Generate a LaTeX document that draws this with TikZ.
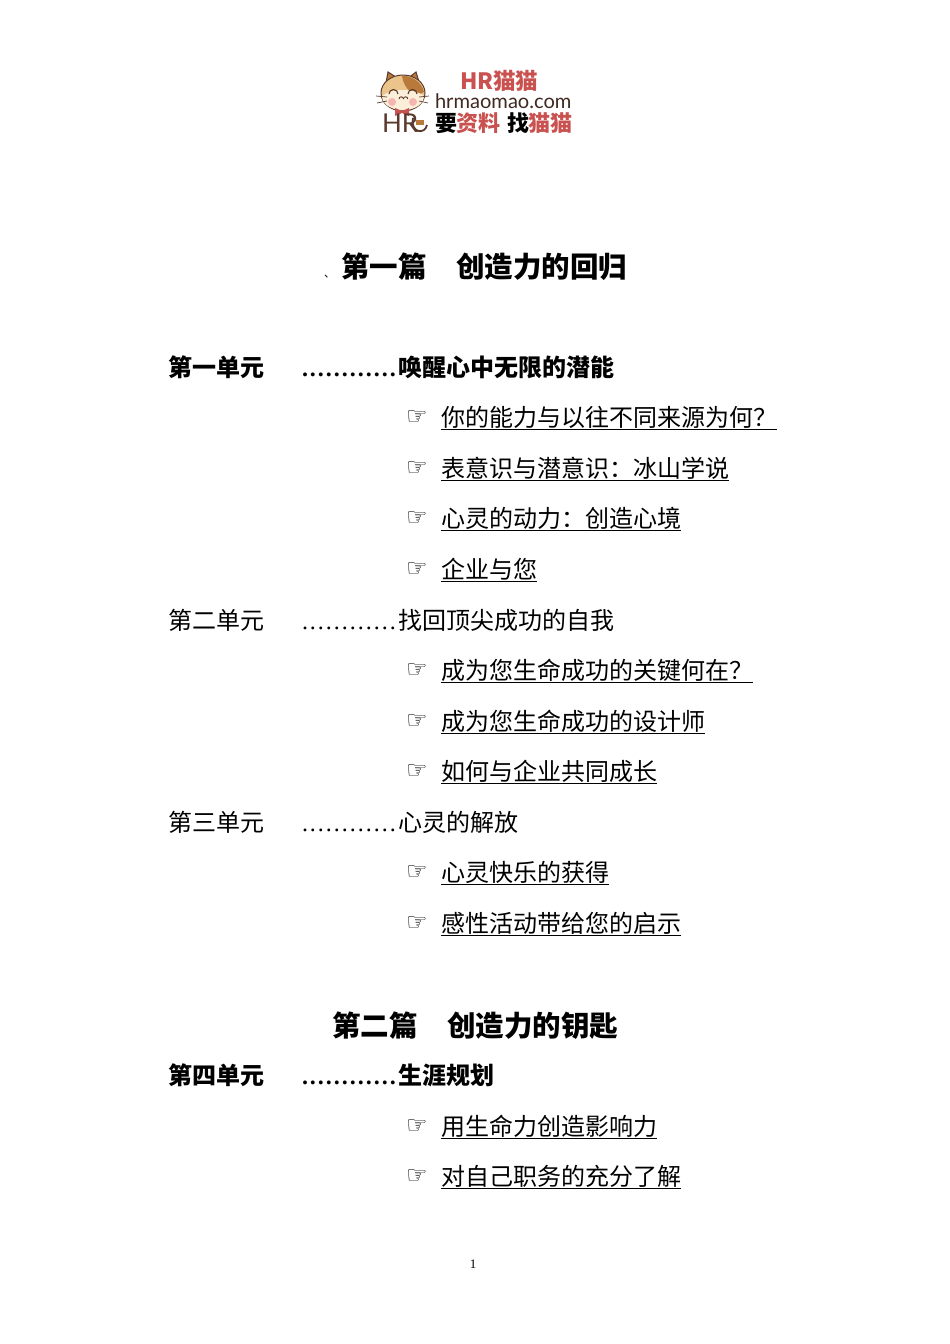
\documentclass[tikz,border=0pt]{standalone}
\usepackage{fontspec}
\setmainfont{Noto Sans CJK SC}
\newfontfamily\latinfont{Liberation Serif}
\newfontfamily\dotfont[LetterSpace=8.33]{Liberation Serif}
\newfontfamily\symbfont{DejaVu Sans}
\newfontfamily\logofont{Lato}
\definecolor{logored}{HTML}{C9514F}
\definecolor{logobrown}{HTML}{5A3A2E}
\definecolor{catfur}{HTML}{EBC48C}
\definecolor{catpatch}{HTML}{B9793A}
\definecolor{catface}{HTML}{FBEFD9}
\definecolor{catcheek}{HTML}{F5B5B0}
\usetikzlibrary{positioning}

\begin{document}
\begin{tikzpicture}[x=1pt, y=-1pt, outer sep=0pt, inner sep=0pt]

\tikzstyle{heading}=[anchor=base west, font=\fontsize{28.5}{28.5}\selectfont\bfseries]
\tikzstyle{unitbold}=[anchor=base west, font=\fontsize{24}{24}\selectfont\bfseries]
\tikzstyle{unitplain}=[anchor=base west, font=\fontsize{24}{24}\selectfont]
\tikzstyle{pointer}=[anchor=base west, font=\fontsize{24}{24}\selectfont\symbfont, text=black]
\tikzstyle{topic}=[anchor=base west, font=\fontsize{24}{24}\selectfont]
\tikzstyle{logoline}=[anchor=base west, font=\fontsize{22}{22}\selectfont\bfseries]

\useasboundingbox (0,0) rectangle (950,1344);

% logo
\draw[logobrown, fill=catpatch, line width=1] (385,88) -- (388,72) -- (399,79) -- (407,79) -- (416,72) -- (421,88) -- cycle;
\draw[logobrown, fill=catfur, line width=1] (403,93) ellipse (22 and 18);
\fill[catpatch] (402,76) .. controls (411,75) and (422,82) .. (424,92) .. controls (415,98) and (404,90) .. (402,76);
\fill[catface] (403,110) .. controls (391,110) and (382,104) .. (382,96) .. controls (392,88) and (414,88) .. (424,96) .. controls (424,104) and (415,110) .. (403,110);
\fill[catcheek] (392,102) circle (4); \fill[catcheek] (413,102) circle (4);
\draw[logobrown, line width=1.1] (389,94) arc (180:360:4.5); \draw[logobrown, line width=1.1] (408,94) arc (180:360:4.5);
\draw[logobrown, line width=0.9] (399,99) arc (180:360:2.2); \draw[logobrown, line width=0.9] (403.4,99) arc (180:360:2.2);
\draw[logobrown, line width=0.7] (376,96) -- (387,97); \draw[logobrown, line width=0.7] (377,103) -- (387,101);
\draw[logobrown, line width=0.7] (419,97) -- (429,96); \draw[logobrown, line width=0.7] (419,101) -- (428,103);
\fill[logored] (395,108) -- (402,111) -- (409,108) -- (409,116) -- (402,113) -- (395,116) -- cycle;
\node[anchor=base west, font=\fontsize{26}{26}\selectfont\logofont, text=logobrown] (logohr) at (382,132) {HR};
\draw[logobrown, line width=1.8] (413,118) .. controls (410,133) and (425,135) .. (427,125);
\fill[catpatch] (416,120) rectangle (424,125);

\node[anchor=base west, font=\fontsize{22.5}{22.5}\selectfont\bfseries, text=logored] (logoname) at (460,89) {HR猫猫};
\node[anchor=base west, font=\fontsize{20.1}{20.1}\selectfont\logofont, text=logobrown!70!black] (logosite) at (435,108) {hrmaomao.com};
\node[logoline, text=black] (logoa) at (435,131) {要};
\node[logoline, text=logored] (logob) at (456,131) {资料};
\node[logoline, text=black] (logoc) at (507,131) {找};
\node[logoline, text=logored] (logod) at (528,131) {猫猫};

% first part
\node[anchor=base west, font=\fontsize{11}{11}\selectfont] (mark) at (324,277) {、};
\node[heading] (part1) at (341,277) {第一篇};
\node[heading] (part1b) at (456,277) {创造力的回归};

\node[unitbold] (unit1) at (168,376) {第一单元}; \node[unitbold, font=\fontsize{24}{24}\selectfont\bfseries\dotfont] (dots1) at (302,376) {............}; \node[unitbold] (name1) at (398,376) {唤醒心中无限的潜能};
\node[pointer] (hand1) at (406,424) {☞}; \node[topic] (topic1) at (441,426) {\underline{你的能力与以往不同来源为何？}};
\node[pointer] (hand2) at (406,475) {☞}; \node[topic] (topic2) at (441,477) {\underline{表意识与潜意识：冰山学说}};
\node[pointer] (hand3) at (406,525) {☞}; \node[topic] (topic3) at (441,527) {\underline{心灵的动力：创造心境}};
\node[pointer] (hand4) at (406,576) {☞}; \node[topic] (topic4) at (441,578) {\underline{企业与您}};

\node[unitplain] (unit2) at (168,629) {第二单元}; \node[unitplain, font=\fontsize{24}{24}\selectfont\dotfont] (dots2) at (302,629) {............}; \node[unitplain] (name2) at (398,629) {找回顶尖成功的自我};
\node[pointer] (hand5) at (406,677) {☞}; \node[topic] (topic5) at (441,679) {\underline{成为您生命成功的关键何在？}};
\node[pointer] (hand6) at (406,728) {☞}; \node[topic] (topic6) at (441,730) {\underline{成为您生命成功的设计师}};
\node[pointer] (hand7) at (406,778) {☞}; \node[topic] (topic7) at (441,780) {\underline{如何与企业共同成长}};

\node[unitplain] (unit3) at (168,831) {第三单元}; \node[unitplain, font=\fontsize{24}{24}\selectfont\dotfont] (dots3) at (302,831) {............}; \node[unitplain] (name3) at (398,831) {心灵的解放};
\node[pointer] (hand8) at (406,879) {☞}; \node[topic] (topic8) at (441,881) {\underline{心灵快乐的获得}};
\node[pointer] (hand9) at (406,930) {☞}; \node[topic] (topic9) at (441,932) {\underline{感性活动带给您的启示}};

% second part
\node[heading] (part2) at (332,1036) {第二篇};
\node[heading] (part2b) at (447,1036) {创造力的钥匙};

\node[unitbold] (unit4) at (168,1084) {第四单元}; \node[unitbold, font=\fontsize{24}{24}\selectfont\bfseries\dotfont] (dots4) at (302,1084) {............}; \node[unitbold] (name4) at (398,1084) {生涯规划};
\node[pointer] (hand10) at (406,1133) {☞}; \node[topic] (topic10) at (441,1135) {\underline{用生命力创造影响力}};
\node[pointer] (hand11) at (406,1183) {☞}; \node[topic] (topic11) at (441,1185) {\underline{对自己职务的充分了解}};

\node[anchor=base, font=\fontsize{13}{13}\selectfont\latinfont] (pagenum) at (473,1268) {1};

\end{tikzpicture}
\end{document}
